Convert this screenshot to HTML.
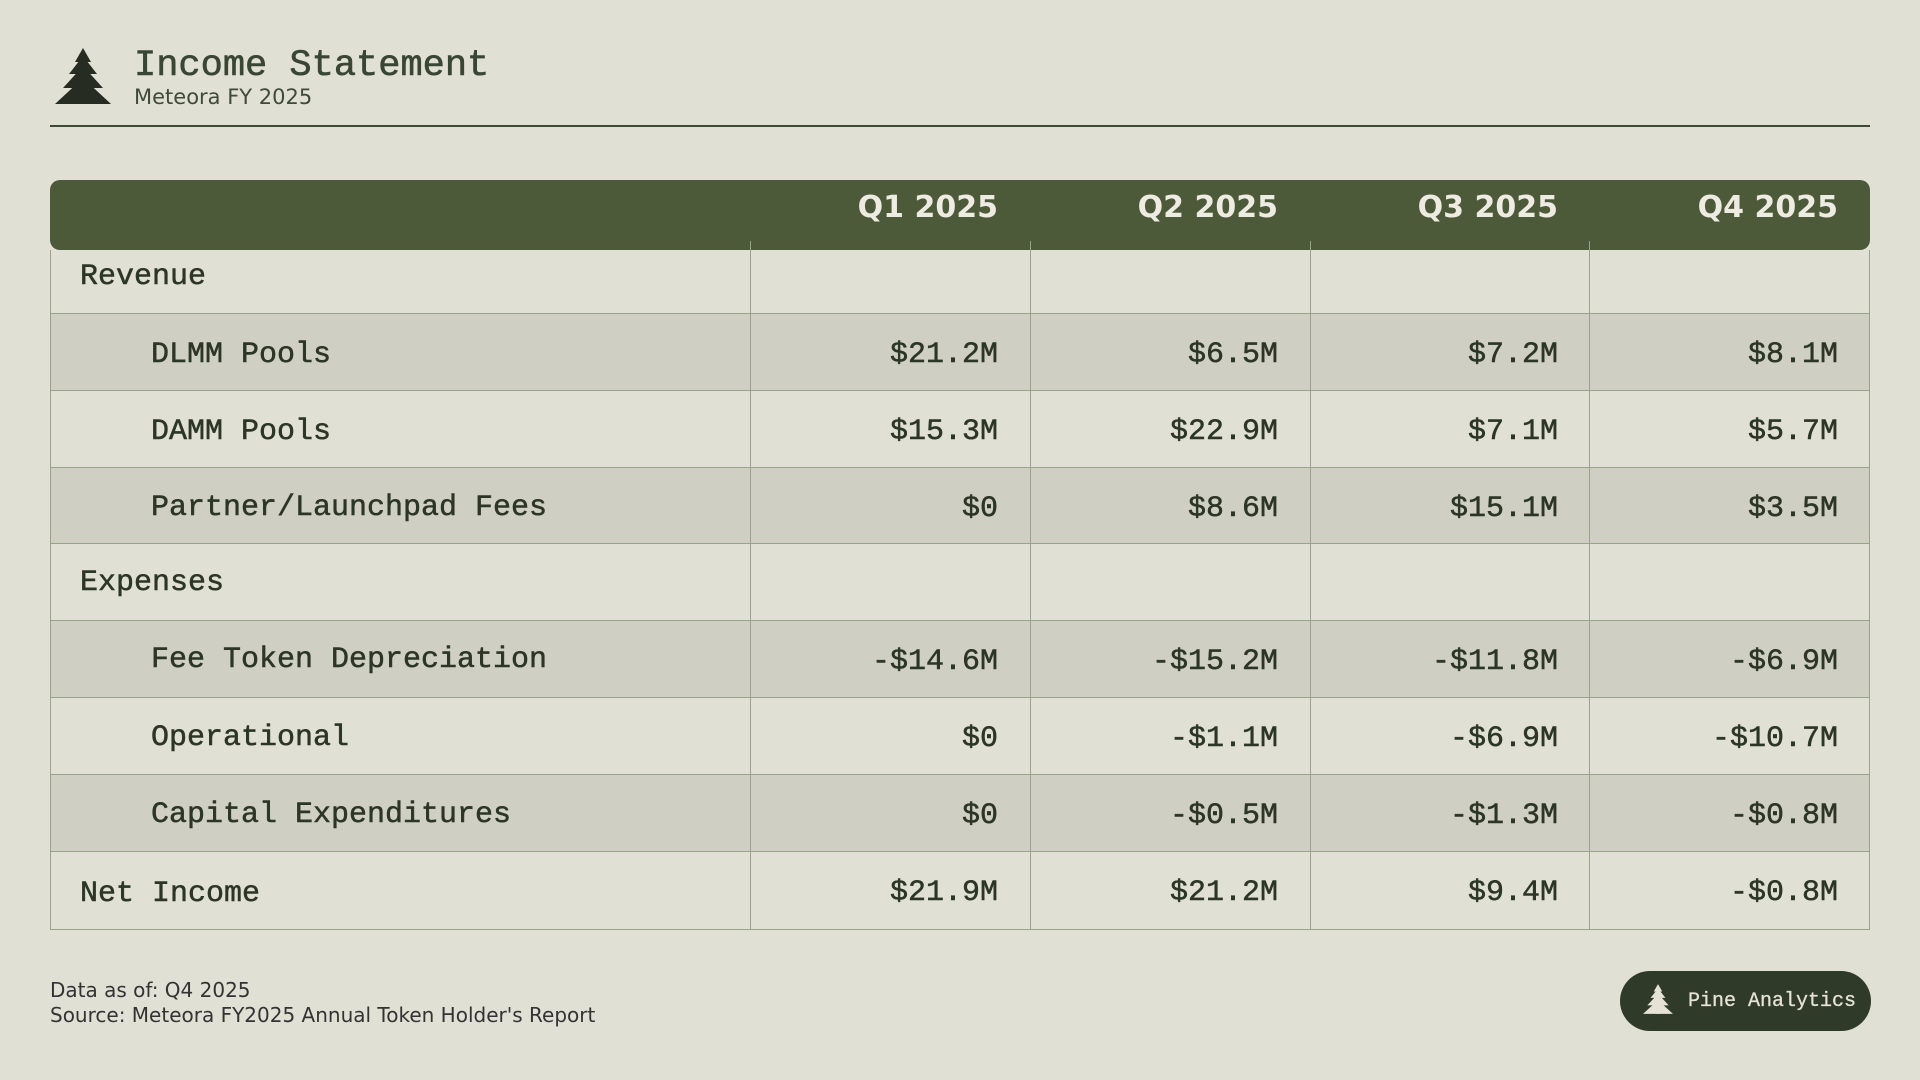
<!DOCTYPE html>
<html><head><meta charset="utf-8"><style>
*{margin:0;padding:0;box-sizing:border-box}
body{width:1920px;height:1080px;background:#e1e0d5;position:relative;overflow:hidden;font-family:"Liberation Mono",monospace;color:#2c3626}
.title{position:absolute;left:134px;top:45px;font-size:37px;color:#3a4634;-webkit-text-stroke:0.6px #3a4634}
.sub{position:absolute;left:134px;top:85px;font-family:"DejaVu Sans",sans-serif;font-size:21px;color:#3f4a39}
.rule{position:absolute;left:50px;top:125px;width:1820px;height:2px;background:#3d4a35}
.hdr{position:absolute;left:50px;top:180px;width:1820px;height:70px;background:#4d5a3a;border-radius:10px}
.q{position:absolute;top:190px;font-family:"DejaVu Sans",sans-serif;font-weight:bold;font-size:30px;color:#eeebe2;text-align:right;width:250px}
.row{position:absolute;left:50px;width:1820px;border-bottom:1px solid #97a38b;border-left:1px solid #97a38b;border-right:1px solid #97a38b}
.alt{background:rgba(170,170,155,0.3)}
.vl{position:absolute;top:241px;height:689px;width:1px;background:#97a38b}
.c{position:absolute;font-size:30px;-webkit-text-stroke:0.5px #2c3626;white-space:pre;margin-top:4px}
.v{text-align:right;width:250px}
.foot{position:absolute;left:50px;font-family:"DejaVu Sans",sans-serif;font-size:20px;color:#333}
.badge{position:absolute;left:1620px;top:971px;width:251px;height:60px;border-radius:30px;background:#2f3a28}
</style></head><body>
<svg style="position:absolute;left:52px;top:46px" width="62" height="60" viewBox="0 0 60 60">
<g fill="#262c22"><polygon points="30,2 22,16 38,16"/><polygon points="30,10 16,28 44,28"/><polygon points="30,20 10,42 50,42"/><polygon points="30,32 2,58 58,58"/><rect x="28" y="10" width="4" height="48"/></g></svg>
<div class="title">Income Statement</div>
<div class="sub">Meteora FY 2025</div>
<div class="rule"></div>
<div class="hdr"></div>
<div class="q" style="left:748px">Q1 2025</div>
<div class="q" style="left:1028px">Q2 2025</div>
<div class="q" style="left:1308px">Q3 2025</div>
<div class="q" style="left:1588px">Q4 2025</div>

<div class="row" style="top:250px;height:64px"></div>
<div class="row alt" style="top:314px;height:77px"></div>
<div class="row" style="top:391px;height:77px"></div>
<div class="row alt" style="top:468px;height:76px"></div>
<div class="row" style="top:544px;height:77px"></div>
<div class="row alt" style="top:621px;height:77px"></div>
<div class="row" style="top:698px;height:77px"></div>
<div class="row alt" style="top:775px;height:77px"></div>
<div class="row" style="top:852px;height:78px"></div>
<div class="vl" style="left:750px"></div>
<div class="vl" style="left:1030px"></div>
<div class="vl" style="left:1310px"></div>
<div class="vl" style="left:1589px"></div>

<div class="c" style="left:80px;top:256px">Revenue</div>
<div class="c" style="left:151px;top:334px">DLMM Pools</div>
<div class="c" style="left:151px;top:411px">DAMM Pools</div>
<div class="c" style="left:151px;top:487px">Partner/Launchpad Fees</div>
<div class="c" style="left:80px;top:562px">Expenses</div>
<div class="c" style="left:151px;top:639px">Fee Token Depreciation</div>
<div class="c" style="left:151px;top:717px">Operational</div>
<div class="c" style="left:151px;top:794px">Capital Expenditures</div>
<div class="c" style="left:80px;top:873px">Net Income</div>

<div class="c v" style="left:748px;top:334px">$21.2M</div><div class="c v" style="left:1028px;top:334px">$6.5M</div><div class="c v" style="left:1308px;top:334px">$7.2M</div><div class="c v" style="left:1588px;top:334px">$8.1M</div>
<div class="c v" style="left:748px;top:411px">$15.3M</div><div class="c v" style="left:1028px;top:411px">$22.9M</div><div class="c v" style="left:1308px;top:411px">$7.1M</div><div class="c v" style="left:1588px;top:411px">$5.7M</div>
<div class="c v" style="left:748px;top:488px">$0</div><div class="c v" style="left:1028px;top:488px">$8.6M</div><div class="c v" style="left:1308px;top:488px">$15.1M</div><div class="c v" style="left:1588px;top:488px">$3.5M</div>
<div class="c v" style="left:748px;top:641px">-$14.6M</div><div class="c v" style="left:1028px;top:641px">-$15.2M</div><div class="c v" style="left:1308px;top:641px">-$11.8M</div><div class="c v" style="left:1588px;top:641px">-$6.9M</div>
<div class="c v" style="left:748px;top:718px">$0</div><div class="c v" style="left:1028px;top:718px">-$1.1M</div><div class="c v" style="left:1308px;top:718px">-$6.9M</div><div class="c v" style="left:1588px;top:718px">-$10.7M</div>
<div class="c v" style="left:748px;top:795px">$0</div><div class="c v" style="left:1028px;top:795px">-$0.5M</div><div class="c v" style="left:1308px;top:795px">-$1.3M</div><div class="c v" style="left:1588px;top:795px">-$0.8M</div>
<div class="c v" style="left:748px;top:872px">$21.9M</div><div class="c v" style="left:1028px;top:872px">$21.2M</div><div class="c v" style="left:1308px;top:872px">$9.4M</div><div class="c v" style="left:1588px;top:872px">-$0.8M</div>

<div class="foot" style="top:978px">Data as of: Q4 2025</div>
<div class="foot" style="top:1003px">Source: Meteora FY2025 Annual Token Holder's Report</div>
<div class="badge"></div>
<svg style="position:absolute;left:1642px;top:981px" width="32" height="36" viewBox="0 0 60 60">
<g fill="#e6e3d6"><polygon points="30,2 22,16 38,16"/><polygon points="30,10 16,28 44,28"/><polygon points="30,20 10,42 50,42"/><polygon points="30,32 2,58 58,58"/><rect x="28" y="10" width="4" height="48"/></g></svg>
<div style="position:absolute;left:1688px;top:990px;font-size:20px;color:#e6e3d6;-webkit-text-stroke:0.3px #e6e3d6">Pine Analytics</div>
</body></html>
